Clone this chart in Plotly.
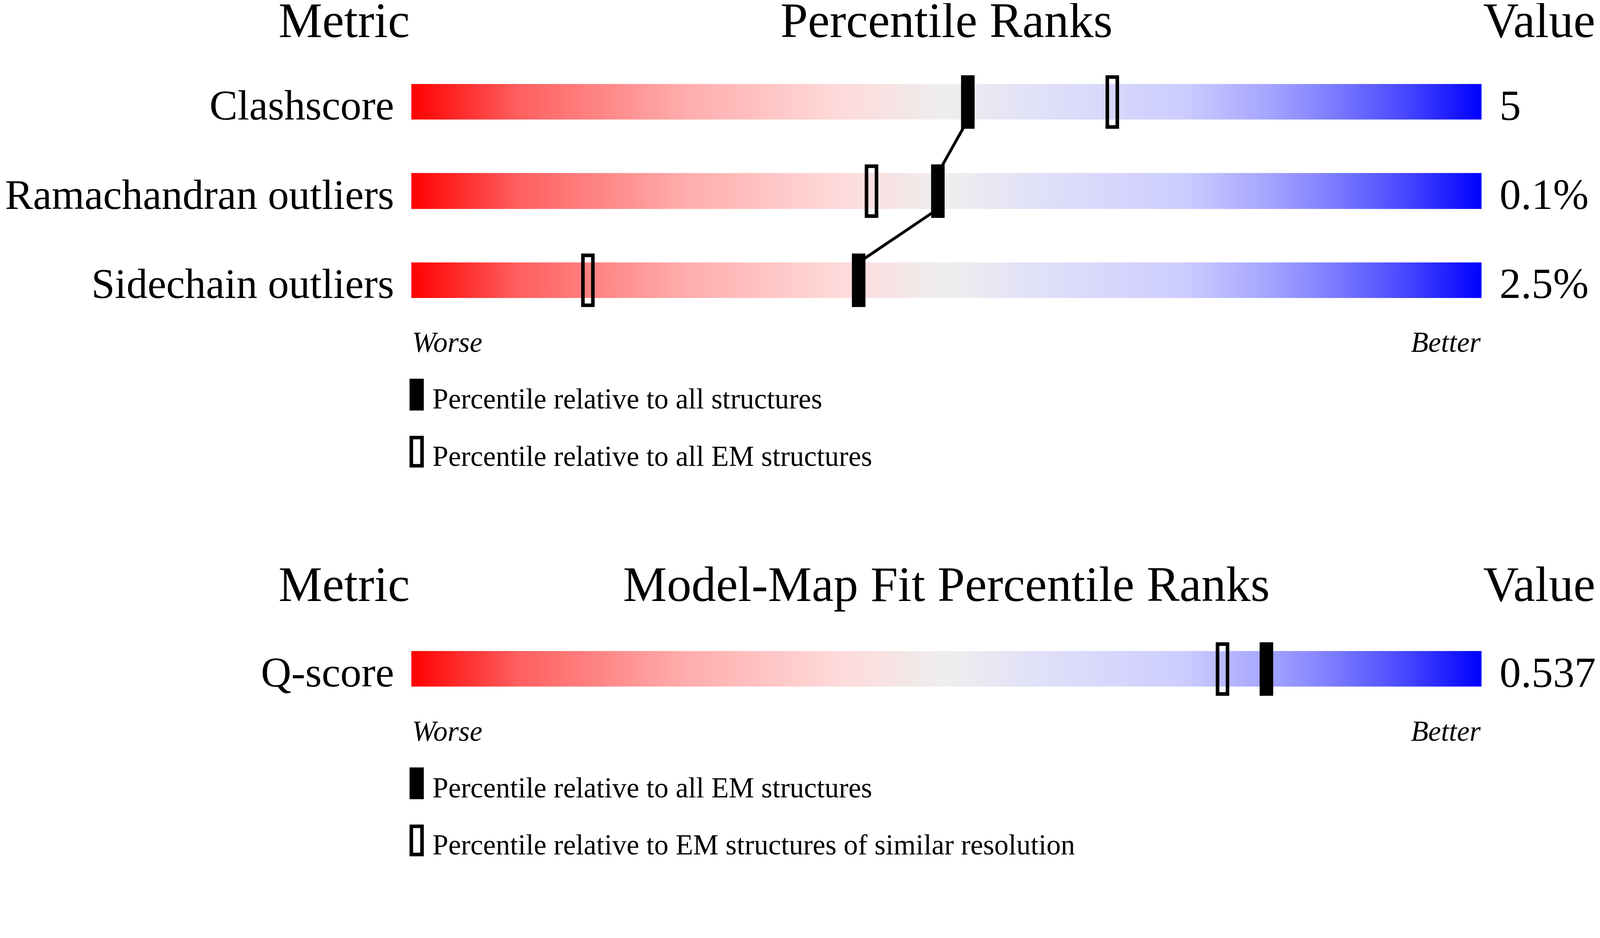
import numpy as np
import plotly.graph_objects as go


# =========================
# Data
# =========================
metrics = ["Clashscore", "Ramachandran outliers", "Sidechain outliers"]
metric_values = ["5", "0.1%", "2.5%"]
pct_all = [52.0, 49.2, 41.8]        # black: relative to all structures
pct_em = [65.5, 43.0, 16.5]         # hollow: relative to all EM structures

fit_metrics = ["Q-score"]
fit_values = ["0.537"]
fit_pct_em = [79.9]                 # black: relative to all EM structures
fit_pct_res = [75.8]                # hollow: EM structures of similar resolution

legend_top = ["Percentile relative to all structures",
              "Percentile relative to all EM structures"]
legend_bottom = ["Percentile relative to all EM structures",
                 "Percentile relative to EM structures of similar resolution"]


# =========================
# Geometry (in screenshot pixels) -> CSS pixels / paper
# =========================
W, H = 4485, 2402          # screenshot size
S = 1 / 1.095              # screenshot px -> css px
OFF = 8                    # default body margin of the html page
FW = round(W * S)
FH = round(H * S)

BAR_L, BAR_R = 1153, 4153
ROW = 250
FONT = "Liberation Serif"
NUDGE = 0.032              # label baseline sits on the bar bottom


def cx(x):
    return x * S - OFF


def px(x):
    return cx(x) / FW


def py(y):
    return 1 - cx(y) / FH


def fs(size):
    return size * S


# red -> grey -> blue slider
slider_scale = [
    [0.00, "rgb(255,0,0)"],
    [0.10, "rgb(255,95,95)"],
    [0.25, "rgb(255,170,170)"],
    [0.40, "rgb(255,218,218)"],
    [0.50, "rgb(238,238,238)"],
    [0.60, "rgb(222,222,250)"],
    [0.72, "rgb(205,205,255)"],
    [0.80, "rgb(165,165,255)"],
    [0.86, "rgb(125,125,255)"],
    [0.93, "rgb(70,70,255)"],
    [1.00, "rgb(0,0,255)"],
]

grid = np.linspace(0, 100, 401)
cells = (grid[:-1] + grid[1:]) / 2
unit = (BAR_R - BAR_L) / 100     # screenshot px per percentile

fig = go.Figure()


def add_panel(n, p_black, p_open, xa, ya):
    fig.add_trace(go.Heatmap(
        x=cells, y=list(range(n)), z=[list(cells)] * n,
        colorscale=slider_scale, zmin=0, zmax=100, showscale=False,
        ygap=150 * S, hoverinfo="skip", xaxis=xa, yaxis=ya,
    ))
    # connector between the black markers
    if n > 1:
        lx, ly = [], []
        for i, p in enumerate(p_black):
            if i > 0:
                lx.append(p)
                ly.append(i - 0.2)
            if i < n - 1:
                lx.append(p)
                ly.append(i + 0.2)
        fig.add_trace(go.Scatter(
            x=lx, y=ly, mode="lines", line=dict(color="black", width=8 * S),
            hoverinfo="skip", showlegend=False, xaxis=xa, yaxis=ya,
        ))
    hw = 38 / unit / 2
    hw2 = 28 / unit / 2
    for i in range(n):
        fig.add_shape(type="rect", xref=xa, yref=ya, layer="above",
                      x0=p_black[i] - hw, x1=p_black[i] + hw,
                      y0=i - 0.3, y1=i + 0.3,
                      fillcolor="black", line=dict(width=0))
        fig.add_shape(type="rect", xref=xa, yref=ya, layer="above",
                      x0=p_open[i] - hw2, x1=p_open[i] + hw2,
                      y0=i - 0.28, y1=i + 0.28,
                      fillcolor="rgba(0,0,0,0)",
                      line=dict(color="black", width=10 * S))


add_panel(len(metrics), pct_all, pct_em, "x", "y")
add_panel(len(fit_metrics), fit_pct_em, fit_pct_res, "x2", "y2")


# =========================
# Text
# =========================
def text(x, y, s, size, anchor, italic=False):
    fig.add_annotation(x=px(x), y=py(y), xref="paper", yref="paper", text=s,
                       showarrow=False, xanchor=anchor, yanchor="middle",
                       font=dict(family=FONT, size=fs(size), color="black",
                                 style="italic" if italic else "normal"))


def headers(baseline, title):
    c = baseline - 0.3375 * 138
    text(BAR_L - 2, c, "Metric", 138, "right")
    text((BAR_L + BAR_R) / 2, c, title, 138, "center")
    text(BAR_R + 2, c, "Value", 138, "left")


def footer(baseline, labels):
    c = baseline - 0.3375 * 80
    text(BAR_L, c, "Worse", 80, "left", italic=True)
    text(BAR_R, c, "Better", 80, "right", italic=True)
    for k, lab in enumerate(labels):
        top = baseline + 75 + 160 * k
        if k == 0:
            fig.add_shape(type="rect", xref="paper", yref="paper",
                          x0=px(1148), x1=px(1188), y0=py(top), y1=py(top + 89),
                          fillcolor="black", line=dict(width=0))
        else:
            fig.add_shape(type="rect", xref="paper", yref="paper",
                          x0=px(1153), x1=px(1183), y0=py(top + 5), y1=py(top + 84),
                          fillcolor="rgba(0,0,0,0)",
                          line=dict(color="black", width=10 * S))
        text(1210, top + 84 - 0.3375 * 80, lab, 80, "left")


headers(104, "Percentile Ranks")
footer(987, legend_top)
headers(1685, "Model-Map Fit Percentile Ranks")
footer(2077, legend_bottom)


# =========================
# Axes
# =========================
top_c0 = 286
bot_c0 = 1876

hidden_x = dict(range=[0, 100], domain=[px(BAR_L), px(BAR_R)], visible=False, fixedrange=True)


def yax(c0, n, names, side, standoff, size, overlay=None):
    d = dict(
        range=[n - 0.5, -0.5],
        domain=[py(c0 + ROW * (n - 0.5)), py(c0 - ROW * 0.5)],
        tickmode="array", tickvals=[i + NUDGE for i in range(n)], ticktext=names,
        ticks="", showgrid=False, zeroline=False, showline=False,
        tickfont=dict(family=FONT, size=fs(size), color="black"),
        side=side, automargin=False, fixedrange=True,
        ticklabelstandoff=standoff,
    )
    if overlay:
        d["overlaying"] = overlay
    return d


fig.update_layout(
    width=FW, height=FH,
    template="none",
    paper_bgcolor="white", plot_bgcolor="white",
    margin=dict(l=0, r=0, t=0, b=0),
    showlegend=False,
    xaxis=hidden_x,
    xaxis2=dict(hidden_x, anchor="y2"),
    yaxis=dict(yax(top_c0, len(metrics), metrics, "left", 43, 118), anchor="x"),
    yaxis2=dict(yax(bot_c0, 1, fit_metrics, "left", 43, 118), anchor="x2"),
    yaxis3=dict(yax(top_c0, len(metrics), metric_values, "right", 45, 120, "y"), anchor="x"),
    yaxis4=dict(yax(bot_c0, 1, fit_values, "right", 45, 120, "y2"), anchor="x2"),
)
# empty traces so the right-hand value axes render
fig.add_trace(go.Scatter(x=[None], y=[None], xaxis="x", yaxis="y3", showlegend=False))
fig.add_trace(go.Scatter(x=[None], y=[None], xaxis="x2", yaxis="y4", showlegend=False))

fig.write_html("out.html")
